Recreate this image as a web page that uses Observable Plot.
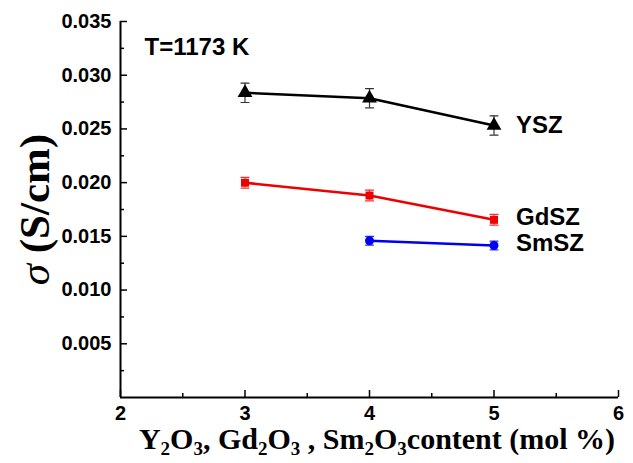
<!DOCTYPE html>
<html><head><meta charset="utf-8">
<script src="https://cdn.jsdelivr.net/npm/d3@7"></script>
<script src="https://cdn.jsdelivr.net/npm/@observablehq/plot@0.6"></script>
<style>
body{margin:0;background:#fff;}
#wrap{width:633px;height:463px;position:relative;overflow:hidden;}
#xlab{position:absolute;left:128px;width:498px;top:422px;text-align:center;font-family:"Liberation Serif","Times New Roman",serif;font-weight:bold;font-size:30px;line-height:34px;white-space:nowrap;}
#xlab sub{font-size:19px;vertical-align:-6px;line-height:0;}
</style>
</head><body><div id="wrap"><div id="chart"></div><div id="xlab">Y<sub>2</sub>O<sub>3</sub>, Gd<sub>2</sub>O<sub>3</sub> , Sm<sub>2</sub>O<sub>3</sub>content (mol %)</div></div>
<script>
// Data
const seriesNames = ["YSZ", "GdSZ", "SmSZ"];
const yszX = [3, 4, 5];
const yszY = [0.02836, 0.02786, 0.02532];
const yszErr = [0.0009, 0.0009, 0.0009];
const gdX = [3, 4, 5];
const gdY = [0.01999, 0.01880, 0.01654];
const gdErr = [0.0005, 0.0005, 0.0005];
const smX = [4, 5];
const smY = [0.01459, 0.01415];
const smErr = [0.0004, 0.0004];
const xTicks = [2, 3, 4, 5, 6];
const xMinor = [2.5, 3.5, 4.5, 5.5];
const yTicks = [0.005, 0.010, 0.015, 0.020, 0.025, 0.030, 0.035];
const yMinor = [0.0025, 0.0075, 0.0125, 0.0175, 0.0225, 0.0275, 0.0325];
const colors = {YSZ: "#000000", GdSZ: "#ee0000", SmSZ: "#0000ee"};
const errColors = {YSZ: "#333333", GdSZ: "#ee3333", SmSZ: "#3333ee"};
const symbols = {YSZ: "triangle", GdSZ: "square", SmSZ: "circle"};
const radii = {YSZ: 5.5, GdSZ: 4.5, SmSZ: 4.5};
const labelDy = {YSZ: 0, GdSZ: -3, SmSZ: -2};
const tempLabel = "T=1173 K";
const yLabel = "σ (S/cm)";

function rows(name, xs, ys, es) {
  return xs.map((x, i) => ({series: name, x, y: ys[i], e: es[i]}));
}
const data = [
  ...rows("YSZ", yszX, yszY, yszErr),
  ...rows("GdSZ", gdX, gdY, gdErr),
  ...rows("SmSZ", smX, smY, smErr)
];

const capShape = {draw(context, l) { context.moveTo(0, 0); context.lineTo(0, -l); }};
const sans = "Liberation Sans, Arial, sans-serif";

const plot = Plot.plot({
  width: 633, height: 463,
  marginLeft: 120, marginRight: 15, marginTop: 21, marginBottom: 66,
  style: {background: "#fff", color: "#000"},
  x: {domain: [2, 6]},
  y: {domain: [0, 0.035]},
  marks: [
    Plot.axisY({ticks: yTicks, tickFormat: d3.format(".3f"), tickSize: -7, tickPadding: 16, fontSize: 20, fontWeight: "bold", fontFamily: sans, label: null, strokeWidth: 1.5}),
    Plot.axisY({ticks: yMinor, tickSize: -4, tickFormat: () => "", label: null, strokeWidth: 1.5}),
    Plot.axisX({ticks: xTicks, tickFormat: d3.format("d"), tickSize: -7, tickPadding: 15, fontSize: 20, fontWeight: "bold", fontFamily: sans, label: null, strokeWidth: 1.5}),
    Plot.axisX({ticks: xMinor, tickSize: -4, tickFormat: () => "", label: null, strokeWidth: 1.5}),
    Plot.ruleX([2], {strokeWidth: 2}),
    Plot.ruleY([0], {strokeWidth: 2}),
    Plot.ruleX(data, {x: "x", y1: d => d.y - d.e, y2: d => d.y + d.e, stroke: d => errColors[d.series], strokeWidth: 1.2}),
    Plot.vector(data, {x: "x", y: d => d.y + d.e, rotate: 90, length: 8, anchor: "middle", shape: capShape, stroke: d => errColors[d.series], strokeWidth: 1.2}),
    Plot.vector(data, {x: "x", y: d => d.y - d.e, rotate: 90, length: 8, anchor: "middle", shape: capShape, stroke: d => errColors[d.series], strokeWidth: 1.2}),
    Plot.line(data, {x: "x", y: "y", z: "series", stroke: d => colors[d.series], strokeWidth: 2.5}),
    ...seriesNames.map(n => Plot.dot(data.filter(d => d.series === n), {x: "x", y: "y", symbol: symbols[n], fill: colors[n], r: radii[n], stroke: "none"})),
    ...seriesNames.map(n => Plot.text(data.filter(d => d.series === n).slice(-1), {x: "x", y: "y", text: "series", dx: 22, dy: labelDy[n], textAnchor: "start", fontSize: 24, fontWeight: "bold", fontFamily: sans, fill: "#000"})),
    Plot.text([tempLabel], {frameAnchor: "top-left", dx: 24, dy: 26, lineAnchor: "middle", textAnchor: "start", fontSize: 24, fontWeight: "bold", fontFamily: sans, fill: "#000"}),
    Plot.text([yLabel], {frameAnchor: "left", rotate: -90, dx: -85, textAnchor: "middle", fontSize: 43, fontWeight: "bold", fontFamily: "Liberation Serif, Times New Roman, serif", fill: "#000", className: "ylab"})
  ]
});
document.getElementById("chart").appendChild(plot);
// italic sigma
const yl = plot.querySelector(".ylab text");
if (yl) {
  yl.textContent = "";
  const ns = "http://www.w3.org/2000/svg";
  const a = document.createElementNS(ns, "tspan"); a.textContent = "σ"; a.setAttribute("font-style", "italic"); a.setAttribute("font-weight", "normal");
  const b = document.createElementNS(ns, "tspan"); b.textContent = " (S/cm)";
  yl.appendChild(a); yl.appendChild(b);
}
</script></body></html>
